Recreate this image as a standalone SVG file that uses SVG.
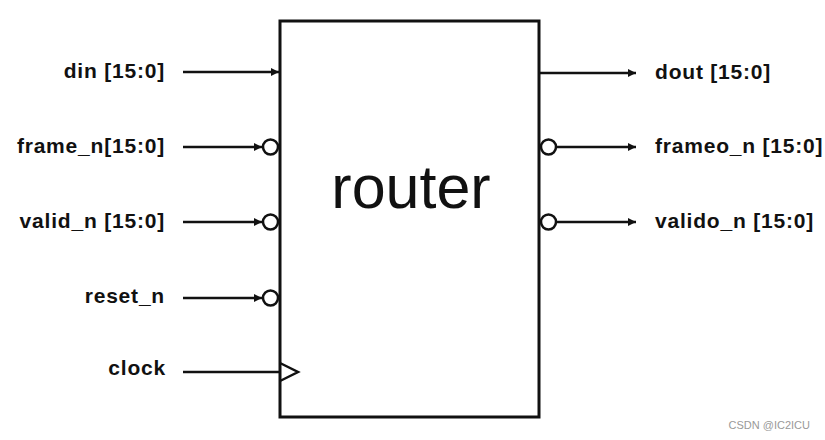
<svg xmlns="http://www.w3.org/2000/svg" width="825" height="440" viewBox="0 0 825 440">
<defs>
<marker id="ah" viewBox="0 0 10 10" refX="10" refY="5" markerWidth="10" markerHeight="8" markerUnits="userSpaceOnUse" orient="auto">
<path d="M0,0 L10,5 L0,10 z" fill="#111"/>
</marker>
<style>
.lbl{font-family:"Liberation Sans",Arial,sans-serif;font-weight:bold;font-size:21px;letter-spacing:0.8px;fill:#111}
.in{text-anchor:end}
.w{stroke:#111;stroke-width:2.5;fill:none}
.bub{stroke:#111;stroke-width:2.5;fill:#fff}
</style>
</defs>
<rect width="825" height="440" fill="#fff"/>
<g id="router">
<rect x="280" y="21" width="259" height="396" fill="#fff" stroke="#111" stroke-width="3"/>
<text x="411" y="208" text-anchor="middle" font-family="'Liberation Sans',Arial,sans-serif" font-size="61" fill="#111">router</text>
<path class="w" d="M280,363 L298,372 L280,381"/>
</g>
<g id="connectors">
<line class="w" x1="183" y1="72" x2="279" y2="72" marker-end="url(#ah)"/>
<line class="w" x1="183" y1="147" x2="262" y2="147" marker-end="url(#ah)"/>
<line class="w" x1="183" y1="222" x2="262" y2="222" marker-end="url(#ah)"/>
<line class="w" x1="183" y1="298" x2="262" y2="298" marker-end="url(#ah)"/>
<line class="w" x1="183" y1="372" x2="280" y2="372"/>
<circle class="bub" cx="270.5" cy="147" r="7.5"/>
<circle class="bub" cx="270.5" cy="222" r="7.5"/>
<circle class="bub" cx="270.5" cy="298" r="7.5"/>
<line class="w" x1="540" y1="73" x2="636" y2="73" marker-end="url(#ah)"/>
<line class="w" x1="557" y1="147" x2="636" y2="147" marker-end="url(#ah)"/>
<line class="w" x1="557" y1="222" x2="636" y2="222" marker-end="url(#ah)"/>
<circle class="bub" cx="548.5" cy="147" r="7.5"/>
<circle class="bub" cx="548.5" cy="222" r="7.5"/>
</g>
<g id="inputs">
<text class="lbl in" x="165" y="78">din [15:0]</text>
<text class="lbl in" x="165" y="153">frame_n[15:0]</text>
<text class="lbl in" x="165" y="228">valid_n [15:0]</text>
<text class="lbl in" x="165" y="303">reset_n</text>
<text class="lbl in" x="166" y="375">clock</text>
</g>
<g id="outputs">
<text class="lbl" x="655" y="79">dout [15:0]</text>
<text class="lbl" x="655" y="153">frameo_n [15:0]</text>
<text class="lbl" x="655" y="228">valido_n [15:0]</text>
</g>
<text x="810" y="429" text-anchor="end" font-family="'Liberation Sans',Arial,sans-serif" font-size="11" fill="#999">CSDN @IC2ICU</text>
</svg>
